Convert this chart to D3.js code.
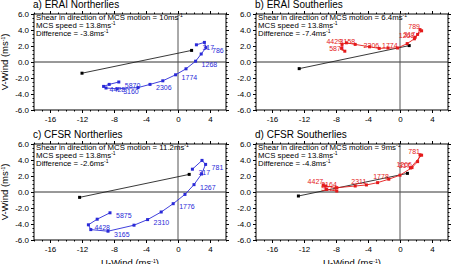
<!DOCTYPE html>
<html>
<head>
<meta charset="utf-8">
<script src="https://d3js.org/d3.v7.min.js"></script>
<style>
  body { margin: 0; background: #fff; }
  svg text { font-family: "Liberation Sans", Arial, Helvetica, sans-serif; }
  .axis .domain { stroke: none; }
  .axis line { stroke: #000; }
</style>
</head>
<body>
<svg id="hodo" width="454" height="264"></svg>
<script>
// ---- tick labels ----
const xTicks = [-16, -12, -8, -4, 0, 4];
const yTicks = [-6, -4, -2, 0, 2, 4, 6];

// ---- a) ERAI Northerlies ----
const uA = [2.3, 3.3, 3.5, 2.9, 2.2, 1.0, -0.3, -1.9, -3.5, -5.0, -7.6, -9.0, -9.3, -8.6, -7.4];
const vA = [2.15, 2.45, 1.8, 1.0, 0.1, -0.85, -1.6, -2.35, -2.8, -3.2, -3.35, -3.25, -3.05, -2.8, -2.5];
const labA = ["317", "", "786", "", "1268", "", "1774", "", "2306", "", "3160", "", "4428", "", "5870"];
const shearUA = [-12.0, 1.7];
const shearVA = [-1.4, 1.45];

// ---- b) ERAI Southerlies ----
const uB = [1.9, 2.7, 2.5, 2.2, 1.8, 0.9, -0.3, -1.5, -2.6, -3.8, -5.6, -6.7, -7.25, -7.3, -6.9];
const vB = [3.1, 3.9, 4.05, 3.45, 2.9, 2.3, 1.75, 1.75, 1.7, 1.9, 2.2, 2.4, 2.2, 1.7, 1.35];
const labB = ["317", "", "789", "", "1268", "", "1774", "", "2306", "", "3158", "", "4429", "", "5871"];
const shearUB = [-12.6, 1.15];
const shearVB = [-0.83, 2.05];

// ---- c) CFSR Northerlies ----
const uC = [1.8, 3.0, 3.45, 2.95, 2.0, 0.87, -0.6, -2.1, -3.8, -5.5, -8.75, -10.9, -11.2, -10.1, -8.5];
const vC = [2.85, 3.95, 3.45, 2.25, 0.92, -0.3, -1.46, -2.5, -3.45, -4.15, -4.9, -4.7, -4.1, -3.4, -2.6];
const labC = ["317", "", "781", "", "1267", "", "1776", "", "2310", "", "3165", "", "4428", "", "5875"];
const shearUC = [-12.3, 1.4];
const shearVC = [-0.67, 2.2];

// ---- d) CFSR Southerlies ----
const uD = [1.3, 2.7, 2.5, 2.2, 1.5, 0.0, -1.4, -2.8, -4.2, -5.6, -7.9, -9.3, -9.6, -9.2, -7.9];
const vD = [3.0, 4.6, 4.65, 3.8, 3.05, 2.1, 1.6, 1.17, 0.88, 0.75, 0.54, 0.75, 0.88, 0.33, 0.12];
const labD = ["317", "", "781", "", "1266", "", "1778", "", "2311", "", "3164", "", "4427", "", "5874"];
const shearUD = [-12.7, 0.93];
const shearVD = [-0.5, 2.33];

// ---- annotation numbers ----
const shearVals = ["10", "6.4", "11.2", "9"];
const speedVals = ["13.8", "13.8", "13.8", "13.8"];
const diffVals = ["-3.8", "-7.4", "-2.6", "-4.8"];
const titles = ["a) ERAI Northerlies", "b) ERAI Southerlies", "c) CFSR Northerlies", "d) CFSR Southerlies"];

const svg = d3.select('svg#hodo');
const plotW = 192, plotH = 96;
const blue = "#2a2ad8", red = "#e41a1a";

const panels = [
  {x0: 34,  y0: 14,  u: uA, v: vA, lab: labA, su: shearUA, sv: shearVA, col: blue, south: false, ylab: true,  xlab: false},
  {x0: 256, y0: 14,  u: uB, v: vB, lab: labB, su: shearUB, sv: shearVB, col: red,  south: true,  ylab: false, xlab: false},
  {x0: 34,  y0: 144, u: uC, v: vC, lab: labC, su: shearUC, sv: shearVC, col: blue, south: false, ylab: true,  xlab: true},
  {x0: 256, y0: 144, u: uD, v: vD, lab: labD, su: shearUD, sv: shearVD, col: red,  south: true,  ylab: false, xlab: true}
];

function msText(sel, before, after) {
  // writes "before" + ms^-1 + "after"
  sel.append('tspan').text(before + 'ms');
  sel.append('tspan').attr('dy', -3).attr('font-size', '5px').text('-1');
  sel.append('tspan').attr('dy', 3).text(after);
}

panels.forEach((p, i) => {
  const x = d3.scaleLinear().domain([-18, 6]).range([0, plotW]);
  const y = d3.scaleLinear().domain([-6, 6]).range([plotH, 0]);
  const g = svg.append('g').attr('transform', `translate(${p.x0},${p.y0})`);

  // title
  svg.append('text')
    .attr('x', p.x0 - 1).attr('y', p.y0 - 6)
    .attr('font-size', '10px')
    .text(titles[i]);

  // minor ticks
  const xMinor = d3.range(-18, 6.01, 1);
  const yMinor = d3.range(-6, 6.01, 0.5);
  g.append('g').attr('class', 'axis').attr('transform', `translate(0,${plotH})`)
    .call(d3.axisBottom(x).tickValues(xMinor).tickSize(1.5).tickFormat(''));
  g.append('g').attr('class', 'axis')
    .call(d3.axisTop(x).tickValues(xMinor).tickSize(1.5).tickFormat(''));
  g.append('g').attr('class', 'axis')
    .call(d3.axisLeft(y).tickValues(yMinor).tickSize(1.5).tickFormat(''));
  g.append('g').attr('class', 'axis').attr('transform', `translate(${plotW},0)`)
    .call(d3.axisRight(y).tickValues(yMinor).tickSize(1.5).tickFormat(''));

  // major ticks with labels
  const bx = g.append('g').attr('class', 'axis').attr('transform', `translate(0,${plotH})`)
    .call(d3.axisBottom(x).tickValues(xTicks).tickSize(3).tickPadding(3).tickFormat(d => String(d)));
  bx.selectAll('text').attr('font-size', '8px').attr('font-family', '"Liberation Sans", Arial, sans-serif');
  g.append('g').attr('class', 'axis')
    .call(d3.axisTop(x).tickValues(xTicks).tickSize(3).tickFormat(''));
  const ly = g.append('g').attr('class', 'axis')
    .call(d3.axisLeft(y).tickValues(yTicks).tickSize(3).tickPadding(2).tickFormat(d => d.toFixed(1)));
  ly.selectAll('text').attr('font-size', '8px').attr('font-family', '"Liberation Sans", Arial, sans-serif');
  g.append('g').attr('class', 'axis').attr('transform', `translate(${plotW},0)`)
    .call(d3.axisRight(y).tickValues(yTicks).tickSize(3).tickFormat(''));

  // frame
  g.append('rect').attr('width', plotW).attr('height', plotH)
    .attr('fill', 'none').attr('stroke', '#000').attr('stroke-width', 1);

  // zero lines
  g.append('line').attr('x1', 0).attr('x2', plotW).attr('y1', y(0)).attr('y2', y(0))
    .attr('stroke', '#333').attr('stroke-width', 1);
  g.append('line').attr('x1', x(0)).attr('x2', x(0)).attr('y1', 0).attr('y2', plotH)
    .attr('stroke', '#555').attr('stroke-width', 1);

  // annotation text
  const ax = 2, ay = 5.8;
  const t1 = g.append('text').attr('x', ax).attr('y', ay).attr('font-size', '7.8px');
  msText(t1, 'Shear in direction of MCS motion = ' + shearVals[i], '');
  const t2 = g.append('text').attr('x', ax).attr('y', ay + 8.3).attr('font-size', '7.8px');
  msText(t2, 'MCS speed = ' + speedVals[i], '');
  const t3 = g.append('text').attr('x', ax).attr('y', ay + 16.6).attr('font-size', '7.8px');
  msText(t3, 'Difference = ' + diffVals[i], '');

  // shear vector (black)
  const shear = p.su.map((u, k) => [u, p.sv[k]]);
  g.append('path').datum(shear)
    .attr('d', d3.line().x(d => x(d[0])).y(d => y(d[1])))
    .attr('fill', 'none').attr('stroke', '#222').attr('stroke-width', 0.9);
  g.selectAll('.sm').data(shear).enter().append('rect')
    .attr('x', d => x(d[0]) - 1.5).attr('y', d => y(d[1]) - 1.5)
    .attr('width', 3).attr('height', 3).attr('fill', '#000');

  // hodograph
  const pts = p.u.map((u, k) => [u, p.v[k], p.lab[k]]);
  g.append('path').datum(pts)
    .attr('d', d3.line().x(d => x(d[0])).y(d => y(d[1])))
    .attr('fill', 'none').attr('stroke', p.col).attr('stroke-width', 0.9);
  g.selectAll('.pt').data(pts).enter().append('rect')
    .attr('x', d => x(d[0]) - 1.5).attr('y', d => y(d[1]) - 1.5)
    .attr('width', 3).attr('height', 3).attr('fill', p.col);

  g.selectAll('.lab').data(pts.filter(d => d[2] !== '')).enter().append('text')
    .attr('x', d => p.south ? x(d[0]) : x(d[0]) + 6)
    .attr('y', d => p.south ? y(d[1]) - 0.5 : y(d[1]) + 5.5)
    .attr('text-anchor', p.south ? 'end' : 'start')
    .attr('font-size', '7px')
    .attr('fill', p.col)
    .text(d => d[2]);

  // axis titles
  if (p.ylab) {
    const yt = svg.append('text')
      .attr('transform', `translate(${p.x0 - 26},${p.y0 + plotH / 2}) rotate(-90)`)
      .attr('text-anchor', 'middle').attr('font-size', '9.5px');
    msText(yt, 'V-Wind (', ')');
  }
  if (p.xlab) {
    const xt = svg.append('text')
      .attr('x', p.x0 + plotW / 2).attr('y', p.y0 + plotH + 26)
      .attr('text-anchor', 'middle').attr('font-size', '9.5px');
    msText(xt, 'U-Wind (', ')');
  }
});
</script>
</body>
</html>
